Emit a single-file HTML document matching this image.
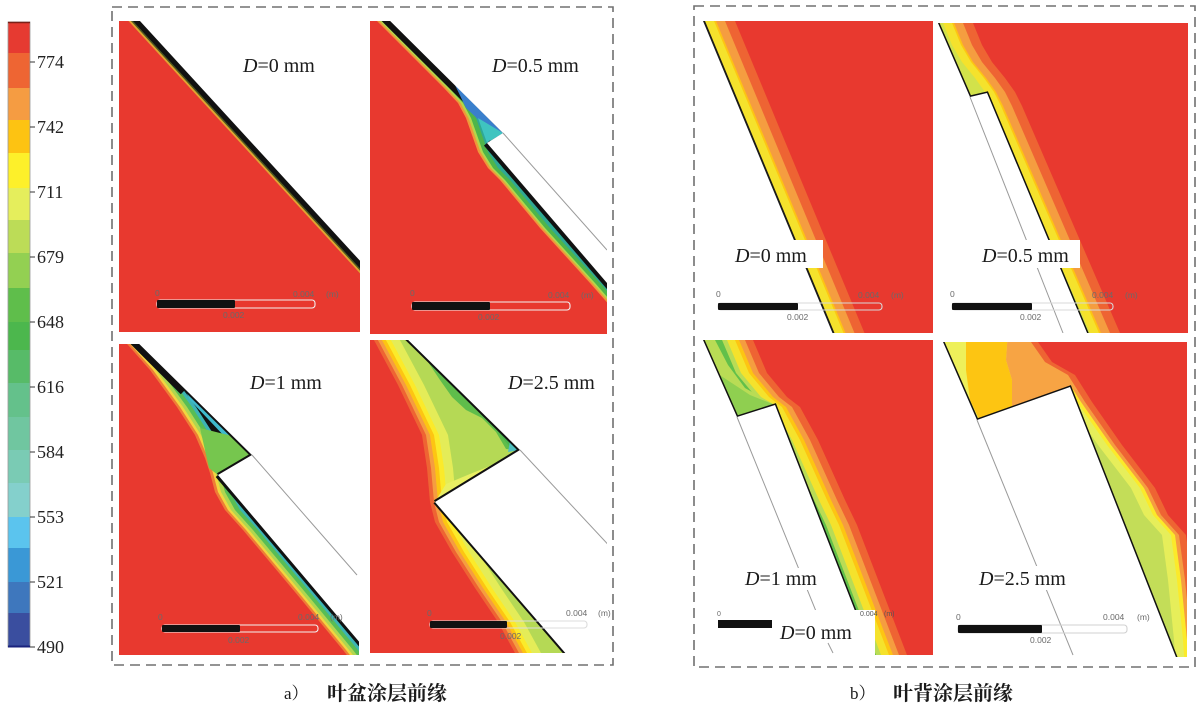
<!DOCTYPE html>
<html><head><meta charset="utf-8"><style>
html,body{margin:0;padding:0;background:#fff;width:1200px;height:704px;overflow:hidden}
svg{display:block}
</style></head><body>
<svg width="1200" height="704" viewBox="0 0 1200 704" xmlns="http://www.w3.org/2000/svg" xmlns:xlink="http://www.w3.org/1999/xlink">
<defs>
<clipPath id="cA1"><rect x="119" y="21" width="241" height="311"/></clipPath>
<clipPath id="cA2"><rect x="370" y="21" width="237" height="313"/></clipPath>
<clipPath id="cA3"><rect x="119" y="344" width="240" height="311"/></clipPath>
<clipPath id="cA4"><rect x="370" y="340" width="237" height="313"/></clipPath>
<clipPath id="cB1"><rect x="703" y="21" width="230" height="312"/></clipPath>
<clipPath id="cB2"><rect x="937" y="23" width="251" height="310"/></clipPath>
<clipPath id="cB3"><rect x="703" y="340" width="230" height="315"/></clipPath>
<clipPath id="cB4"><rect x="942" y="342" width="245" height="315"/></clipPath>
<polygon id="pa1" points="120.7,0 444.6,353 0,353 0,0"/>
<polygon id="pa2" points="356,0 377,21 443,87 458,103 466,118 472,135 478,152 488,168 500,180 540,228 590,283 625,323 650,352 300,352 300,0"/>
<polygon id="pa3" points="113,330 128,345 150,370 177,407 195,435 205,458 210,473 215,492 225,510 243,530 300,598 343,650 360,672 0,672 0,330"/>
<polygon id="pa4" points="368,330 375,342 398,385 422,435 427,468 430,502 435,522 452,552 475,588 498,622 515,653 525,672 0,672 0,330"/>
<polygon id="rb1" points="726.3,0 867.4,340 1000,340 1000,0"/>
<polygon id="rb2" points="963,0 973,23 982,45 992,62 1005,78 1015,92 1022,106 1120,333 1123,340 1250,340 1250,0"/>
<polygon id="rb3" points="745,330 753,340 767,373 787,397 800,407 818,440 845,500 857,525 907,655 913,670 1000,670 1000,330"/>
<polygon id="rb4" points="1038,330 1038,342 1052,362 1075,375 1092,402 1122,445 1155,488 1168,515 1186,535 1192,580 1198,640 1200,670 1300,670 1300,330"/>
</defs>

<!-- Colorbar -->
<g>
<rect x="8" y="22" width="22" height="31" fill="#e63a31"/>
<rect x="8" y="53" width="22" height="35" fill="#ee6533"/>
<rect x="8" y="88" width="22" height="32" fill="#f59c42"/>
<rect x="8" y="120" width="22" height="33" fill="#fdc312"/>
<rect x="8" y="153" width="22" height="35" fill="#fdf02a"/>
<rect x="8" y="188" width="22" height="32" fill="#e5ee5c"/>
<rect x="8" y="220" width="22" height="33" fill="#bcdc57"/>
<rect x="8" y="253" width="22" height="35" fill="#93d052"/>
<rect x="8" y="288" width="22" height="34" fill="#5fbe4b"/>
<rect x="8" y="322" width="22" height="28" fill="#4cb74d"/>
<rect x="8" y="350" width="22" height="33" fill="#57bb68"/>
<rect x="8" y="383" width="22" height="34" fill="#64c18b"/>
<rect x="8" y="417" width="22" height="33" fill="#70c6a0"/>
<rect x="8" y="450" width="22" height="33" fill="#7acbb4"/>
<rect x="8" y="483" width="22" height="34" fill="#84d0cc"/>
<rect x="8" y="517" width="22" height="31" fill="#5bc4ee"/>
<rect x="8" y="548" width="22" height="34" fill="#3a98d6"/>
<rect x="8" y="582" width="22" height="31" fill="#3e77bd"/>
<rect x="8" y="613" width="22" height="34" fill="#3a4e9f"/>
<rect x="8" y="22" width="22" height="625" fill="none" stroke="#9a9a9a" stroke-width="0.8"/>
<line x1="8" y1="22.5" x2="30" y2="22.5" stroke="#7a2018" stroke-width="1.5"/>
<line x1="8" y1="646.5" x2="30" y2="646.5" stroke="#1a237e" stroke-width="2"/>
<g stroke="#333" stroke-width="1">
<line x1="30" y1="62" x2="35" y2="62"/><line x1="30" y1="127" x2="35" y2="127"/>
<line x1="30" y1="192" x2="35" y2="192"/><line x1="30" y1="257" x2="35" y2="257"/>
<line x1="30" y1="322" x2="35" y2="322"/><line x1="30" y1="387" x2="35" y2="387"/>
<line x1="30" y1="452" x2="35" y2="452"/><line x1="30" y1="517" x2="35" y2="517"/>
<line x1="30" y1="582" x2="35" y2="582"/><line x1="30" y1="647" x2="35" y2="647"/>
</g>
<g font-family="'Liberation Serif', serif" font-size="18" fill="#222">
<text x="37" y="68">774</text><text x="37" y="133">742</text>
<text x="37" y="198">711</text><text x="37" y="263">679</text>
<text x="37" y="328">648</text><text x="37" y="393">616</text>
<text x="37" y="458">584</text><text x="37" y="523">553</text>
<text x="37" y="588">521</text><text x="37" y="653">490</text>
</g>
</g>

<!-- Dashed boxes -->
<rect x="112" y="7" width="501" height="658" fill="none" stroke="#707070" stroke-width="1.6" stroke-dasharray="10 6"/>
<rect x="694" y="6" width="501" height="661" fill="none" stroke="#707070" stroke-width="1.6" stroke-dasharray="10 6"/>

<!-- A1: D=0 -->
<g clip-path="url(#cA1)">
<rect x="119" y="21" width="241" height="311" fill="#111"/>
<use xlink:href="#pa1" href="#pa1" transform="translate(-7,0)" fill="#4d5a22"/>
<use xlink:href="#pa1" href="#pa1" transform="translate(-9,0)" fill="#e2a431"/>
<use xlink:href="#pa1" href="#pa1" transform="translate(-11.5,0)" fill="#e8392f"/>
<polygon points="120.7,0 444.6,353 700,353 700,0" fill="#fff"/>
</g>

<!-- A2: D=0.5 -->
<g clip-path="url(#cA2)">
<rect x="370" y="21" width="237" height="313" fill="#111"/>
<use xlink:href="#pa2" href="#pa2" transform="translate(15,0)" fill="#2fa894"/>
<use xlink:href="#pa2" href="#pa2" transform="translate(10,0)" fill="#4fb54a"/>
<use xlink:href="#pa2" href="#pa2" transform="translate(5,0)" fill="#b4d64a"/>
<use xlink:href="#pa2" href="#pa2" transform="translate(2.5,0)" fill="#f0973a"/>
<use xlink:href="#pa2" href="#pa2" fill="#e8392f"/>
<line x1="369" y1="0" x2="503" y2="133" stroke="#111" stroke-width="12"/>
<polygon points="455,85 503,133 497,137 466,108" fill="#3a7fcc"/>
<polygon points="478,118 503,133 487,143" fill="#3fc4c0"/>
<line x1="487" y1="143" x2="673" y2="360" stroke="#111" stroke-width="8"/>
<polygon points="369,0 503,133 487,143 673,360 700,360 700,0" fill="#fff"/>
<line x1="503" y1="133" x2="607" y2="250" stroke="#9a9a9a" stroke-width="1"/>
</g>

<!-- A3: D=1 -->
<g clip-path="url(#cA3)">
<rect x="119" y="344" width="240" height="311" fill="#111"/>
<use xlink:href="#pa3" href="#pa3" transform="translate(19,0)" fill="#3cb4b4"/>
<use xlink:href="#pa3" href="#pa3" transform="translate(15,0)" fill="#58bd55"/>
<use xlink:href="#pa3" href="#pa3" transform="translate(10,0)" fill="#b0d650"/>
<use xlink:href="#pa3" href="#pa3" transform="translate(6,0)" fill="#f2d540"/>
<use xlink:href="#pa3" href="#pa3" transform="translate(3,0)" fill="#ef7d36"/>
<use xlink:href="#pa3" href="#pa3" fill="#e8392f"/>
<line x1="125" y1="330" x2="185" y2="390" stroke="#111" stroke-width="12"/>
<polygon points="180,380 252,455 244,457 190,400" fill="#3fb9cc"/>
<polygon points="200,428 232,436 252,455 218,475 209,468" fill="#76c64e"/>
<line x1="125" y1="330" x2="252" y2="455" stroke="#111" stroke-width="4"/>
<line x1="252" y1="455" x2="218" y2="475" stroke="#111" stroke-width="4"/>
<line x1="218" y1="475" x2="383" y2="670" stroke="#111" stroke-width="6"/>
<polygon points="125,330 252,455 218,475 383,670 700,670 700,330" fill="#fff"/>
<line x1="252" y1="455" x2="357" y2="575" stroke="#9a9a9a" stroke-width="1"/>
</g>

<!-- A4: D=2.5 -->
<g clip-path="url(#cA4)">
<rect x="370" y="340" width="237" height="313" fill="#b5d955"/>
<use xlink:href="#pa4" href="#pa4" transform="translate(26,0)" fill="#e4ec58"/>
<use xlink:href="#pa4" href="#pa4" transform="translate(17,0)" fill="#fbea2a"/>
<use xlink:href="#pa4" href="#pa4" transform="translate(12,0)" fill="#fdc512"/>
<use xlink:href="#pa4" href="#pa4" transform="translate(8,0)" fill="#f59d40"/>
<use xlink:href="#pa4" href="#pa4" transform="translate(4,0)" fill="#ee6433"/>
<use xlink:href="#pa4" href="#pa4" fill="#e8392f"/>
<polygon points="404,336 520,450 506,449 496,432 482,418 466,410 452,397 440,380 428,362 416,344" fill="#5fbd4b"/>
<polygon points="406,338 520,450 512,450 470,395 440,360" fill="#4bb54e"/>
<polygon points="435,502 446,484 470,474 500,462 520,450" fill="#e9ef63"/>
<polygon points="404,336 426,337 431,352" fill="#4fc0c0"/>
<polygon points="510,441 520,450 508,452" fill="#4fc0c0"/>
<line x1="398" y1="330" x2="520" y2="450" stroke="#111" stroke-width="4"/>
<line x1="520" y1="450" x2="435" y2="502" stroke="#111" stroke-width="4"/>
<line x1="435" y1="502" x2="580" y2="670" stroke="#111" stroke-width="4"/>
<polygon points="398,330 520,450 435,502 580,670 700,670 700,330" fill="#fff"/>
<line x1="520" y1="450" x2="615" y2="552" stroke="#9a9a9a" stroke-width="1"/>
</g>

<!-- B1: D=0 -->
<g clip-path="url(#cB1)">
<rect x="703" y="21" width="230" height="312" fill="#1a1a1a"/>
<use xlink:href="#rb1" href="#rb1" transform="translate(-30,0)" fill="#f5e22c"/>
<use xlink:href="#rb1" href="#rb1" transform="translate(-21,0)" fill="#fdc512"/>
<use xlink:href="#rb1" href="#rb1" transform="translate(-19,0)" fill="#f59d40"/>
<use xlink:href="#rb1" href="#rb1" transform="translate(-10,0)" fill="#ee6433"/>
<use xlink:href="#rb1" href="#rb1" fill="#e8392f"/>
<polygon points="600,0 694.3,0 835.4,340 600,340" fill="#fff"/>
<rect x="727" y="240" width="96" height="28" fill="#fff"/>
</g>

<!-- B2: D=0.5 -->
<g clip-path="url(#cB2)">
<rect x="937" y="23" width="251" height="310" fill="#d2e24a"/>
<use xlink:href="#rb2" href="#rb2" transform="translate(-30,0)" fill="#f5e22c"/>
<use xlink:href="#rb2" href="#rb2" transform="translate(-21,0)" fill="#fdc512"/>
<use xlink:href="#rb2" href="#rb2" transform="translate(-19,0)" fill="#f59d40"/>
<use xlink:href="#rb2" href="#rb2" transform="translate(-10,0)" fill="#ee6433"/>
<use xlink:href="#rb2" href="#rb2" fill="#e8392f"/>
<polyline points="928,0 970,97 987,93 1090,340" fill="none" stroke="#111" stroke-width="3"/>
<polygon points="900,0 928,0 970,97 987,93 1090,340 900,340" fill="#fff"/>
<line x1="970" y1="97" x2="1063" y2="333" stroke="#9a9a9a" stroke-width="1"/>
<rect x="973" y="240" width="107" height="28" fill="#fff"/>
</g>

<!-- B3: D=1 -->
<g clip-path="url(#cB3)">
<rect x="703" y="340" width="230" height="315" fill="#62c04a"/>
<use xlink:href="#rb3" href="#rb3" transform="translate(-31,0)" fill="#b9dc55"/>
<use xlink:href="#rb3" href="#rb3" transform="translate(-26,0)" fill="#f5e22c"/>
<use xlink:href="#rb3" href="#rb3" transform="translate(-18,0)" fill="#fdc512"/>
<use xlink:href="#rb3" href="#rb3" transform="translate(-14,0)" fill="#f59d40"/>
<use xlink:href="#rb3" href="#rb3" transform="translate(-8,0)" fill="#ee6433"/>
<use xlink:href="#rb3" href="#rb3" fill="#e8392f"/>
<polygon points="703,340 715,340 728,365 745,388 775,405 737,417" fill="#b9dc55"/>
<polygon points="712,370 750,395 775,405 737,417" fill="#8fcf50"/>
<polyline points="698.6,330 737,417 775,405 878,670" fill="none" stroke="#111" stroke-width="3"/>
<polygon points="600,330 698.6,330 737,417 775,405 878,670 600,670" fill="#fff"/>
<line x1="737" y1="417" x2="833" y2="653" stroke="#9a9a9a" stroke-width="1"/>
<rect x="742" y="568" width="80" height="22" fill="#fff"/>
<rect x="703" y="610" width="172" height="45" fill="#fff"/>
<line x1="828" y1="643" x2="833" y2="653" stroke="#9a9a9a" stroke-width="1"/>
<rect x="718" y="620" width="54" height="8" fill="#111"/>
</g>

<!-- B4: D=2.5 -->
<g clip-path="url(#cB4)">
<rect x="942" y="342" width="245" height="315" fill="#c3dd58"/>
<use xlink:href="#rb4" href="#rb4" transform="translate(-24,0)" fill="#e6ee5a"/>
<use xlink:href="#rb4" href="#rb4" transform="translate(-15,0)" fill="#fbea2a"/>
<use xlink:href="#rb4" href="#rb4" transform="translate(-11,0)" fill="#f59d40"/>
<polygon points="937,330 1040,330 1075,375 1070,387 977,420" fill="#eef05a"/>
<polygon points="966,330 1008,330 1006,360 1012,380 1012,409 980,421 970,400 966,370" fill="#fdc512"/>
<polygon points="1008,330 1032,330 1040,345 1055,364 1072,376 1080,392 1070,387 1012,409 1012,380 1006,360" fill="#f7a444"/>
<use xlink:href="#rb4" href="#rb4" transform="translate(-7,0)" fill="#ee6433"/>
<use xlink:href="#rb4" href="#rb4" fill="#e8392f"/>
<polyline points="937.8,330 977,420 1070,387 1181,670" fill="none" stroke="#111" stroke-width="3"/>
<polygon points="900,330 937.8,330 977,420 1070,387 1181,670 900,670" fill="#fff"/>
<line x1="977" y1="420" x2="1073" y2="655" stroke="#9a9a9a" stroke-width="1"/>
<rect x="975" y="566" width="96" height="24" fill="#fff"/>
</g>

<!-- Scale bars -->
<g font-family="'Liberation Sans', sans-serif" font-size="8.5" fill="#6a6a6a">
<!-- A1 -->
<text x="155" y="296">0</text>
<rect x="157" y="300" width="158" height="8" rx="3" fill="none" stroke="#f2f2f2" stroke-width="1.1"/>
<rect x="157" y="300" width="78" height="8" rx="1" fill="#111"/>
<text x="293" y="297">0.004</text><text x="326" y="297">(m)</text>
<text x="223" y="318">0.002</text>
<!-- A2 -->
<text x="410" y="296">0</text>
<rect x="412" y="302" width="158" height="8" rx="3" fill="none" stroke="#f2f2f2" stroke-width="1.1"/>
<rect x="412" y="302" width="78" height="8" rx="1" fill="#111"/>
<text x="548" y="298">0.004</text><text x="581" y="298">(m)</text>
<text x="478" y="320">0.002</text>
<!-- A3 -->
<text x="158" y="620">0</text>
<rect x="162" y="625" width="156" height="7" rx="3" fill="none" stroke="#f2f2f2" stroke-width="1.1"/>
<rect x="162" y="625" width="78" height="7" rx="1" fill="#111"/>
<text x="298" y="620">0.004</text><text x="330" y="620">(m)</text>
<text x="228" y="643">0.002</text>
<!-- A4 -->
<text x="427" y="616">0</text>
<rect x="430" y="621" width="157" height="7" rx="3" fill="none" stroke="#dcdcdc" stroke-width="1.1"/>
<rect x="430" y="621" width="77" height="7" rx="1" fill="#111"/>
<text x="566" y="616">0.004</text><text x="598" y="616">(m)</text>
<text x="500" y="639">0.002</text>
<!-- B1 -->
<text x="716" y="297">0</text>
<rect x="718" y="303" width="164" height="7" rx="3" fill="none" stroke="#d8d8d8" stroke-width="1.1"/>
<rect x="718" y="303" width="80" height="7" rx="1" fill="#111"/>
<text x="858" y="298">0.004</text><text x="891" y="298">(m)</text>
<text x="787" y="320">0.002</text>
<!-- B2 -->
<text x="950" y="297">0</text>
<rect x="952" y="303" width="161" height="7" rx="3" fill="none" stroke="#d8d8d8" stroke-width="1.1"/>
<rect x="952" y="303" width="80" height="7" rx="1" fill="#111"/>
<text x="1092" y="298">0.004</text><text x="1125" y="298">(m)</text>
<text x="1020" y="320">0.002</text>
<!-- B3 partial -->
<text x="717" y="616" font-size="7">0</text>
<text x="860" y="616" font-size="7" fill="#555">0.004</text><text x="884" y="616" font-size="7" fill="#555">(m)</text>
<!-- B4 -->
<text x="956" y="620">0</text>
<rect x="958" y="625" width="169" height="8" rx="3" fill="none" stroke="#d0d0d0" stroke-width="1.1"/>
<rect x="958" y="625" width="84" height="8" rx="1" fill="#111"/>
<text x="1103" y="620">0.004</text><text x="1137" y="620">(m)</text>
<text x="1030" y="643">0.002</text>
</g>

<!-- D labels -->
<g font-family="'Liberation Serif', serif" font-size="20" fill="#1a1a1a">
<text x="243" y="72"><tspan font-style="italic">D</tspan>=0 mm</text>
<text x="492" y="72"><tspan font-style="italic">D</tspan>=0.5 mm</text>
<text x="250" y="389"><tspan font-style="italic">D</tspan>=1 mm</text>
<text x="508" y="389"><tspan font-style="italic">D</tspan>=2.5 mm</text>
<text x="735" y="262"><tspan font-style="italic">D</tspan>=0 mm</text>
<text x="982" y="262"><tspan font-style="italic">D</tspan>=0.5 mm</text>
<text x="745" y="585"><tspan font-style="italic">D</tspan>=1 mm</text>
<text x="780" y="639"><tspan font-style="italic">D</tspan>=0 mm</text>
<text x="979" y="585"><tspan font-style="italic">D</tspan>=2.5 mm</text>
</g>

<!-- Captions -->
<g fill="#1a1a1a">
<text x="284" y="699" font-family="'Liberation Serif', 'Noto Serif CJK SC', serif" font-size="17">a）</text>
<text x="327" y="700" font-family="'Liberation Serif', 'Noto Serif CJK SC', serif" font-size="20" font-weight="bold">叶盆涂层前缘</text>
<text x="850" y="699" font-family="'Liberation Serif', 'Noto Serif CJK SC', serif" font-size="17">b）</text>
<text x="893" y="700" font-family="'Liberation Serif', 'Noto Serif CJK SC', serif" font-size="20" font-weight="bold">叶背涂层前缘</text>
</g>
</svg>
</body></html>
